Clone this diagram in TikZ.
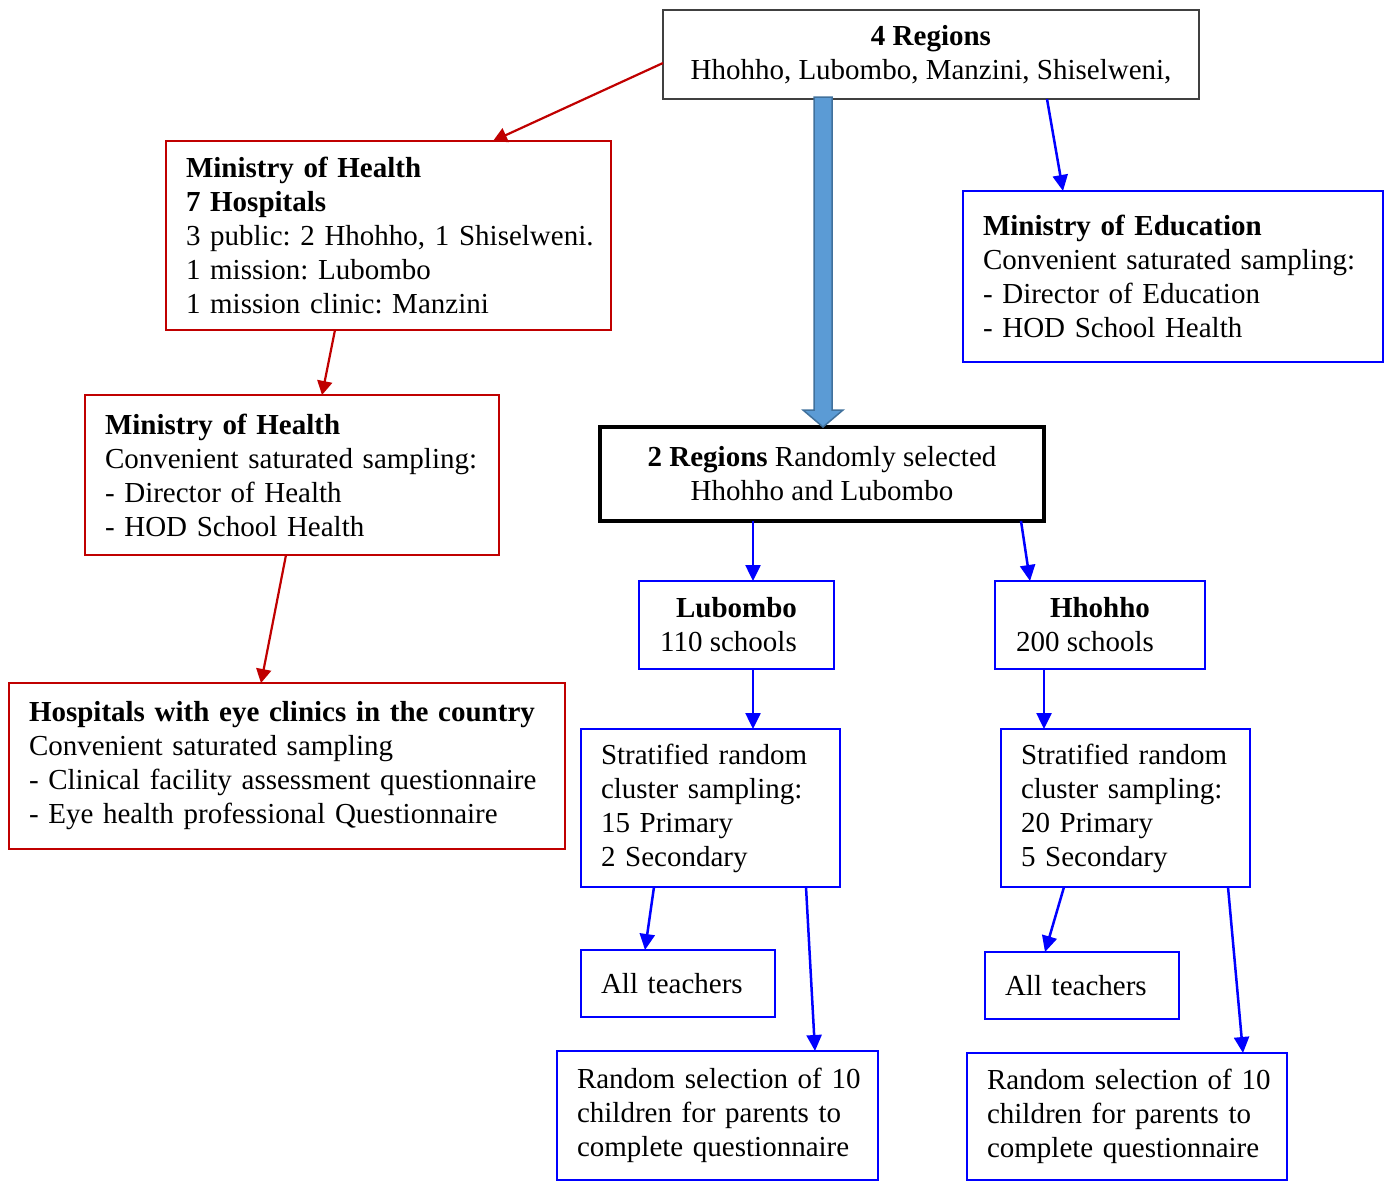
\documentclass[tikz,border=0pt]{standalone}
\usepackage{fontspec}
\setmainfont{Liberation Serif}
\usetikzlibrary{arrows.meta,calc}
\definecolor{mohred}{RGB}{192,0,0}
\definecolor{edublue}{RGB}{0,0,255}
\definecolor{blockfill}{RGB}{91,155,213}
\definecolor{blockedge}{RGB}{65,113,156}
\definecolor{topedge}{RGB}{64,64,64}
\begin{document}
\frenchspacing
\begin{tikzpicture}[x=1pt,y=-1pt,
  box/.style={anchor=north west, outer sep=0pt, inner xsep=20pt, inner ysep=0pt,
    font=\fontsize{29}{34}\selectfont\frenchspacing},
  % left-aligned boxes: 20pt left padding, 10pt right padding
  lbox/.style={box, inner xsep=10pt, align=left, execute at begin node={\leftskip=10pt\relax}},
  redbox/.style={lbox, draw=mohred, line width=2pt},
  bluebox/.style={lbox, draw=edublue, line width=2.5pt},
  bluecbox/.style={box, draw=edublue, line width=2.5pt, align=center},
  redarrow/.style={draw=mohred, line width=2.2pt, -{Triangle[length=14pt,width=15pt]}},
  bluearrow/.style={draw=edublue, line width=2.5pt, -{Triangle[length=16pt,width=15pt]}},
]
\useasboundingbox (0,0) rectangle (1389,1181);

% top level: all regions
\node[box, draw=topedge, line width=1.5pt, align=center, minimum width=536pt, minimum height=89pt]
  (top) at (663,10) {\textbf{4 Regions}\\Hhohho, Lubombo, Manzini, Shiselweni,};

% Ministry of Health branch
\node[redbox, minimum width=445pt, text width=425pt, minimum height=189pt] (moh1) at (166,141)
  {\textbf{Ministry of Health}\\\textbf{7 Hospitals}\\3 public: 2 Hhohho, 1 Shiselweni.\\1 mission: Lubombo\\1 mission clinic: Manzini};
\node[redbox, minimum width=414pt, text width=394pt, minimum height=160pt] (moh2) at (85,395)
  {\textbf{Ministry of Health}\\Convenient saturated sampling:\\- Director of Health\\- HOD School Health};
\node[redbox, minimum width=556pt, text width=536pt, minimum height=166pt] (hosp) at (9,683)
  {\textbf{Hospitals with eye clinics in the country}\\Convenient saturated sampling\\- Clinical facility assessment questionnaire\\- Eye health professional Questionnaire};

% Ministry of Education branch (text sits a little above the middle)
\node[bluebox, minimum width=420pt, text width=400pt, minimum height=171pt] (moe) at (963,191)
  {\textbf{Ministry of Education}\\Convenient saturated sampling:\\- Director of Education\\- HOD School Health\\[12pt]};

% selected regions
\node[box, draw=black, line width=4pt, align=center, minimum width=444pt, minimum height=94pt]
  (reg2) at (600,427) {\textbf{2 Regions} Randomly selected\\Hhohho and Lubombo};

\node[bluecbox, minimum width=195pt, minimum height=88pt] (lub) at (639,581)
  {\textbf{Lubombo}\\110 schools\hspace*{16pt}};
\node[bluecbox, minimum width=210pt, minimum height=88pt] (hho) at (995,581)
  {\textbf{Hhohho}\\200 schools\hspace*{30pt}};

\node[bluebox, minimum width=259pt, text width=239pt, minimum height=158pt] (strL) at (581,729)
  {Stratified random\\cluster sampling:\\15 Primary\\2 Secondary};
\node[bluebox, minimum width=249pt, text width=229pt, minimum height=158pt] (strH) at (1001,729)
  {Stratified random\\cluster sampling:\\20 Primary\\5 Secondary};

\node[bluebox, minimum width=194pt, text width=174pt, minimum height=67pt] (allL) at (581,950)
  {All teachers\\[6pt]};
\node[bluebox, minimum width=194pt, text width=174pt, minimum height=67pt] (allH) at (985,952)
  {All teachers\\[6pt]};

\node[bluebox, minimum width=321pt, text width=301pt, minimum height=129pt] (rndL) at (557,1051)
  {Random selection of 10\\children for parents to\\complete questionnaire};
\node[bluebox, minimum width=320pt, text width=300pt, minimum height=127pt] (rndH) at (967,1053)
  {Random selection of 10\\children for parents to\\complete questionnaire};

% red connectors
\draw[redarrow] ([yshift=-8.5pt]top.west) -- ([xshift=327pt]moh1.north west);
\draw[redarrow] ([xshift=169pt]moh1.south west) -- ([xshift=237pt]moh2.north west);
\draw[redarrow] ([xshift=201pt]moh2.south west) -- ([xshift=252pt]hosp.north west);

% blue connectors
\draw[bluearrow] ([xshift=384pt]top.south west) -- ([xshift=100pt]moe.north west);
\draw[bluearrow] ([xshift=153pt]reg2.south west) -- ([xshift=114pt]lub.north west);
\draw[bluearrow] ([xshift=421pt]reg2.south west) -- ([xshift=35pt]hho.north west);
\draw[bluearrow] ([xshift=114pt]lub.south west) -- ([xshift=172pt]strL.north west);
\draw[bluearrow] ([xshift=49pt]hho.south west) -- ([xshift=43pt]strH.north west);
\draw[bluearrow] ([xshift=73pt]strL.south west) -- ([xshift=64pt]allL.north west);
\draw[bluearrow] ([xshift=225pt]strL.south west) -- ([xshift=258pt]rndL.north west);
\draw[bluearrow] ([xshift=63pt]strH.south west) -- ([xshift=60pt]allH.north west);
\draw[bluearrow] ([xshift=227pt]strH.south west) -- ([xshift=276pt]rndH.north west);

% block arrow from all regions down to the selected regions
\coordinate (bat) at ([xshift=160pt]top.south west);
\coordinate (bab) at ([xshift=223pt]reg2.north west);
\draw[fill=blockfill, draw=blockedge, line width=1.5pt, line join=miter]
  ($(bat)+(-9,-2)$) -- ($(bab)+(-9,-17)$) -- ($(bab)+(-20,-17)$) -- (bab)
  -- ($(bab)+(20,-17)$) -- ($(bab)+(9,-17)$) -- ($(bat)+(9,-2)$) -- cycle;
\end{tikzpicture}
\end{document}
